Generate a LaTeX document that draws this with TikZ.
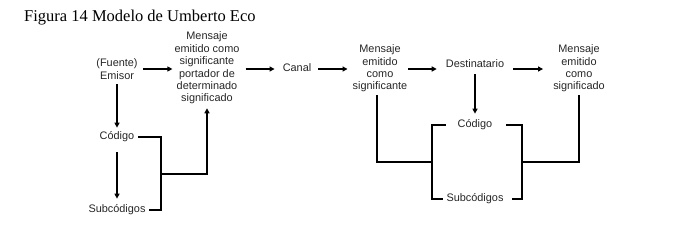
\documentclass[tikz,border=0pt]{standalone}
\usepackage{fontspec}
\setmainfont{Liberation Sans}
\newfontfamily\titlefont{Liberation Serif}
\usetikzlibrary{arrows.meta,calc}
\begin{document}
\begin{tikzpicture}[x=1pt,y=-1pt,
  lbl/.style={inner sep=0pt,align=center,font=\fontsize{10.9}{12.4}\selectfont,text=black!85},
  arr/.style={-{Triangle[length=5pt,width=5pt]},line width=1.2pt},
  ln/.style={line width=1.2pt}]
\useasboundingbox (0,0) rectangle (697,231);
\node[anchor=base west,inner sep=0pt,font=\titlefont\fontsize{16.5}{18}\selectfont] (title) at (24,21) {Figura 14 Modelo de Umberto Eco};
\coordinate (row) at (0,69);
\node[lbl] (emisor) at (117,69) {(Fuente)\\Emisor};
\node[lbl] (m1) at (207,68) {Mensaje\\emitido como\\significante\\portador de\\determinado\\significado};
\node[lbl] (canal) at (297,68) {Canal};
\node[lbl] (m2) at (380,68.5) {Mensaje\\emitido\\como\\significante};
\node[lbl] (dest) at (475,64) {Destinatario};
\node[lbl] (m3) at (579,68.5) {Mensaje\\emitido\\como\\significado};
\node[lbl] (cod1) at (117,137) {Código};
\node[lbl] (sub1) at (117,210) {Subcódigos};
\node[lbl] (cod2) at (475,125) {Código};
\node[lbl] (sub2) at (475,199) {Subcódigos};
% horizontal arrows
\draw[arr] ($(emisor.east|-row)+(5pt,0)$) -- ($(m1.west|-row)+(-2pt,0)$);
\draw[arr] ($(m1.east|-row)+(6pt,0)$) -- ($(canal.west|-row)+(-8pt,0)$);
\draw[arr] ($(canal.east|-row)+(7pt,0)$) -- ($(m2.west|-row)+(-5pt,0)$);
\draw[arr] ($(m2.east|-row)+(1pt,0)$) -- ($(dest.west|-row)+(-9pt,0)$);
\draw[arr] ($(dest.east|-row)+(9pt,0)$) -- ($(m3.west|-row)+(-10pt,0)$);
% vertical arrows
\draw[arr] ($(emisor.south)+(0,-5pt)$) -- ($(cod1.north)+(0,4pt)$);
\draw[arr] ($(cod1.south)+(0,-10pt)$) -- ($(sub1.north)+(0,6pt)$);
\draw[arr] ($(dest.south)+(0,-6pt)$) -- ($(cod2.north)+(0,6pt)$);
% left bracket
\coordinate (lj) at (161,174);
\draw[ln] ($(cod1.east)+(4pt,0)$) -- (cod1.east -| lj) -- (sub1.east -| lj) -- ($(sub1.east)+(3pt,0)$);
\draw[arr] (lj) -| ($(m1.south)+(0,-4pt)$);
% right brackets
\coordinate (rl) at (432,162);
\coordinate (rr) at (522,162);
\draw[ln] ($(cod2.west)+(-12pt,0)$) -- (cod2.west -| rl) -- (sub2.west -| rl) -- ($(sub2.west)+(-3pt,0)$);
\draw[ln] ($(cod2.east)+(14pt,0)$) -- (cod2.east -| rr) -- (sub2.east -| rr) -- ($(sub2.east)+(8pt,0)$);
\draw[ln] ($(m2.south)+(-3pt,-3pt)$) |- (rl);
\draw[ln] (rr) -| ($(m3.south)+(0,-3pt)$);
\end{tikzpicture}
\end{document}
